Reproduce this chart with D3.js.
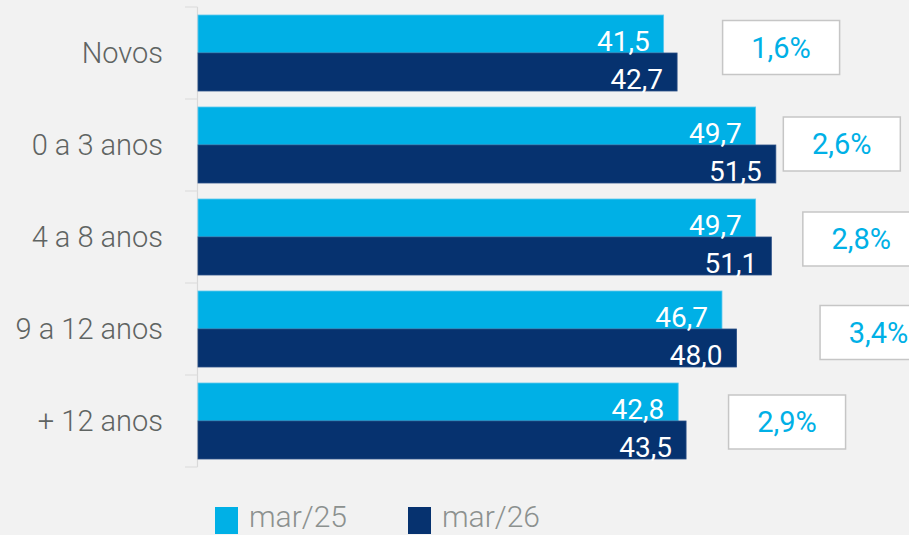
<!DOCTYPE html>
<html><head><meta charset="utf-8">
<script src="https://cdn.jsdelivr.net/npm/d3@7"></script>
<style>
html,body{margin:0;padding:0;background:#f2f2f2;}
svg{display:block;}
</style></head>
<body>
<svg id="chart" width="909" height="535"></svg>
<script>
const categories = ["Novos", "0 a 3 anos", "4 a 8 anos", "9 a 12 anos", "+ 12 anos"];
const seriesNames = ["mar/25", "mar/26"];
const mar25 = [41.5, 49.7, 49.7, 46.7, 42.8];
const mar26 = [42.7, 51.5, 51.1, 48.0, 43.5];
const changes = ["1,6%", "2,6%", "2,8%", "3,4%", "2,9%"];

const colors = ["#00b0e6", "#06326f"];
const boxDx = [45, 7, 31, 83, 42];      // layout: box left offset from longest bar end
const boxDy = [-6, -1.5, 1.5, 3, 0.5];  // layout: box vertical nudge

const svg = d3.select("#chart");
svg.append("rect").attr("width", 909).attr("height", 535).attr("fill", "#f2f2f2");

const x = d3.scaleLinear().domain([0, 1]).range([198, 198 + 11.22]);
const y0 = d3.scaleBand().domain(categories).range([7, 467]).paddingInner(0.174).paddingOuter(0.087);
const y1 = d3.scaleBand().domain(seriesNames).range([0, y0.bandwidth()]);
const fmt = v => d3.format(".1f")(v).replace(".", ",");

const data = categories.map((c, i) => ({c, i, vals: [mar25[i], mar26[i]]}));

// axis line + boundary ticks
const axisG = svg.append("g");
const step = y0.step();
const bounds = d3.range(categories.length + 1).map(k => 7 + k * step);
axisG.append("line").attr("x1", 197.5).attr("x2", 197.5).attr("y1", 7).attr("y2", 467)
  .attr("stroke", "#d9d9d9").attr("stroke-width", 1.2);
axisG.selectAll("line.t").data(bounds).join("line").attr("class", "t")
  .attr("x1", 185).attr("x2", 197.5).attr("y1", d => d).attr("y2", d => d)
  .attr("stroke", "#dedede").attr("stroke-width", 1.2);

// category labels
const yAxis = d3.axisLeft(y0).tickSize(0).tickPadding(34);
const ya = svg.append("g").attr("transform", "translate(197,0)").call(yAxis);
ya.select(".domain").remove();
ya.selectAll("text").attr("font-family", "Roboto, sans-serif").attr("font-weight", 300)
  .attr("font-size", 29).attr("fill", "#5f6462").attr("dy", "0.35em");

// bars
const groups = svg.selectAll("g.grp").data(data).join("g").attr("class", "grp")
  .attr("transform", d => `translate(0,${y0(d.c)})`);

groups.selectAll("rect").data(d => d.vals.map((v, s) => ({v, s}))).join("rect")
  .attr("x", x(0)).attr("y", d => y1(seriesNames[d.s]))
  .attr("width", d => x(d.v) - x(0)).attr("height", y1.bandwidth())
  .attr("fill", d => colors[d.s])
  .attr("stroke", d => d.s === 0 ? "#5cc8ee" : "#2a4f86").attr("stroke-width", 0.8);

groups.selectAll("text.val").data(d => d.vals.map((v, s) => ({v, s}))).join("text")
  .attr("class", "val")
  .attr("x", d => x(d.v) - 14)
  .attr("y", d => y1(seriesNames[d.s]) + y1.bandwidth() - 1.5)
  .attr("text-anchor", "end")
  .attr("font-family", "Roboto, sans-serif").attr("font-size", 28)
  .attr("fill", "#ffffff").text(d => fmt(d.v));

// change boxes
const bw = 117, bh = 54;
const boxes = svg.selectAll("g.box").data(data).join("g").attr("class", "box")
  .attr("transform", d => {
    const bx = x(d3.max(d.vals)) + boxDx[d.i];
    const by = y0(d.c) + y0.bandwidth() / 2 - bh / 2 + boxDy[d.i];
    return `translate(${bx},${by})`;
  });
boxes.append("rect").attr("x", 0.5).attr("y", 0.5).attr("width", bw).attr("height", bh)
  .attr("fill", "#ffffff").attr("stroke", "#c6c6c6").attr("stroke-width", 1.5);
boxes.append("text").attr("x", bw / 2 + 0.5).attr("y", bh / 2 + 10.5)
  .attr("text-anchor", "middle").attr("font-family", "Roboto, sans-serif")
  .attr("font-size", 29).attr("fill", "#00b0e6").text(d => changes[d.i]);

// legend
const legend = svg.append("g");
const legX = [215, 408];
seriesNames.forEach((n, s) => {
  legend.append("rect").attr("x", legX[s]).attr("y", 507).attr("width", 23).attr("height", 27).attr("fill", colors[s]);
  legend.append("text").attr("x", legX[s] + 34).attr("y", 527)
    .attr("font-family", "Roboto, sans-serif").attr("font-weight", 300).attr("font-size", 30)
    .attr("fill", "#8c918f").text(n);
});
</script>
</body></html>
